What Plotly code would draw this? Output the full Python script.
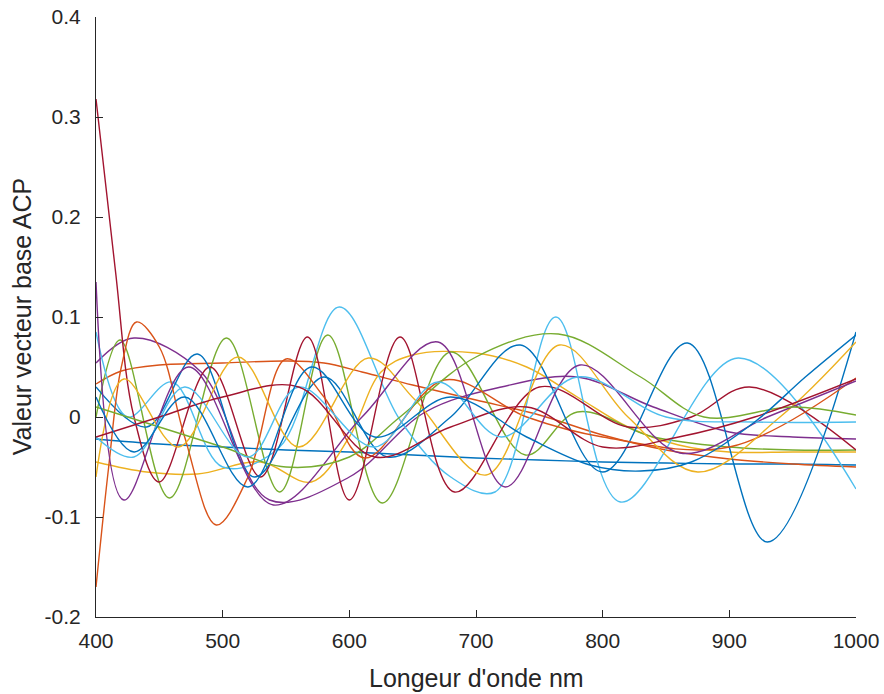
import plotly.graph_objects as go

# MATLAB default colour order
colors = ['#0072BD', '#D95319', '#EDB120', '#7E2F8E', '#77AC30', '#4DBEEE', '#A2142F']

# wavelength (nm) / value pairs, one pair of lists per basis vector
wl_01 = [400, 450, 500, 550, 600, 650, 700, 750, 800, 850, 900, 950, 1000]
v_01 = [-0.022, -0.027, -0.030, -0.033, -0.035, -0.038, -0.041, -0.043, -0.045, -0.046, -0.047, -0.047, -0.048]

wl_02 = [400, 420, 450, 500, 550, 580, 610, 650, 700, 750, 800, 850, 900, 950, 1000]
v_02 = [0.033, 0.046, 0.052, 0.054, 0.056, 0.054, 0.045, 0.032, 0.017, 0.002, -0.018, -0.033, -0.042, -0.047, -0.050]

wl_03 = [400, 440, 480, 530, 570, 600, 625, 650, 700, 740, 780, 820, 860, 900, 950, 1000]
v_03 = [-0.045, -0.055, -0.057, -0.045, -0.065, -0.02, 0.045, 0.062, 0.064, 0.05, 0.02, -0.01, -0.028, -0.035, -0.035, -0.035]

wl_04 = [400, 430, 483, 537, 600, 660, 720, 780, 840, 900, 950, 1000]
v_04 = [0.054, 0.079, 0.045, -0.083, -0.06, 0.005, 0.03, 0.04, 0.01, -0.015, -0.02, -0.022]

wl_05 = [400, 419, 458, 503, 545, 583, 626, 680, 739, 780, 840, 900, 950, 1000]
v_05 = [0.0, 0.077, -0.081, 0.079, -0.075, 0.082, -0.086, 0.065, -0.038, 0.005, -0.02, -0.03, -0.033, -0.033]

wl_06 = [400, 425, 460, 500, 545, 592, 640, 680, 715, 763, 814, 907, 1000]
v_06 = [0.085, 0.0, 0.035, -0.05, -0.03, 0.11, -0.003, -0.06, -0.075, 0.1, -0.085, 0.059, -0.072]

wl_07 = [400, 415, 430, 450, 490, 530, 567, 600, 640, 683, 750, 820, 870, 916, 1000]
v_07 = [0.318, 0.15, 0.0, -0.065, 0.05, -0.06, 0.08, -0.083, 0.08, -0.075, 0.03, -0.01, 0.0, 0.03, -0.033]

wl_08 = [400, 440, 480, 525, 580, 630, 680, 735, 800, 867, 930, 1000]
v_08 = [0.03, -0.01, 0.063, -0.06, 0.04, -0.04, 0.0, 0.072, -0.055, 0.074, -0.125, 0.085]

wl_09 = [400, 410, 420, 432, 450, 470, 495, 520, 550, 580, 612, 675, 740, 800, 900, 1000]
v_09 = [-0.17, -0.05, 0.05, 0.095, 0.07, -0.02, -0.108, -0.06, 0.058, 0.02, -0.041, 0.037, 0.0, -0.02, -0.03, 0.039]

wl_10 = [400, 422, 465, 512, 560, 615, 652, 708, 766, 820, 875, 940, 1000]
v_10 = [-0.06, 0.038, -0.03, 0.06, -0.03, 0.059, 0.017, -0.058, 0.072, 0.0, -0.055, 0.0, 0.075]

wl_11 = [400, 422, 473, 540, 610, 670, 723, 782, 861, 930, 1000]
v_11 = [0.135, -0.083, 0.05, -0.088, 0.0, 0.075, -0.07, 0.052, -0.036, 0.0, 0.036]

wl_12 = [400, 450, 500, 550, 600, 640, 700, 765, 830, 880, 950, 1000]
v_12 = [0.01, -0.01, -0.03, -0.05, -0.04, 0.0, 0.06, 0.083, 0.04, 0.0, 0.01, 0.002]

wl_13 = [400, 430, 470, 520, 560, 620, 670, 720, 780, 850, 920, 1000]
v_13 = [-0.02, -0.04, 0.03, -0.04, 0.03, -0.03, 0.035, -0.02, 0.04, 0.0, -0.005, -0.005]

wl_14 = [400, 450, 500, 560, 620, 680, 740, 800, 860, 920, 1000]
v_14 = [-0.02, 0.0, 0.02, 0.03, -0.04, -0.01, 0.01, -0.03, -0.02, 0.0, 0.038]

wl_15 = [400, 430, 470, 520, 570, 620, 680, 740, 790, 830, 870, 920, 960, 1000]
v_15 = [0.02, -0.035, 0.02, -0.07, 0.05, -0.02, 0.02, -0.02, -0.048, -0.054, -0.045, -0.005, 0.04, 0.082]

series = [(wl_01, v_01), (wl_02, v_02), (wl_03, v_03), (wl_04, v_04), (wl_05, v_05),
          (wl_06, v_06), (wl_07, v_07), (wl_08, v_08), (wl_09, v_09), (wl_10, v_10),
          (wl_11, v_11), (wl_12, v_12), (wl_13, v_13), (wl_14, v_14), (wl_15, v_15)]

x_ticks = [400, 500, 600, 700, 800, 900, 1000]
y_ticks = [-0.2, -0.1, 0, 0.1, 0.2, 0.3, 0.4]
y_labels = ['-0.2', '-0.1', '0', '0.1', '0.2', '0.3', '0.4']

fig = go.Figure()

for i, (wl, v) in enumerate(series):
    fig.add_trace(go.Scatter(
        x=wl, y=v, mode='lines',
        line=dict(color=colors[i % len(colors)], width=1.4, shape='spline', smoothing=1),
        showlegend=False, hoverinfo='skip'
    ))

ink = '#262626'
font_family = 'Liberation Sans, Arial, Helvetica, sans-serif'

fig.update_layout(
    width=884, height=694,
    paper_bgcolor='white', plot_bgcolor='white',
    margin=dict(l=96, r=28, t=17, b=77),
    font=dict(family=font_family, size=21, color=ink),
    xaxis=dict(
        range=[400, 1000], tickvals=x_ticks, ticks='inside', ticklen=7,
        tickcolor=ink, showline=True, linecolor=ink, linewidth=1,
        showgrid=False, zeroline=False, automargin=False, ticklabelstandoff=5,
        ticklabeloverflow='allow'
    ),
    yaxis=dict(
        range=[-0.2, 0.4], tickvals=y_ticks, ticktext=y_labels, ticks='inside', ticklen=7,
        tickcolor=ink, showline=True, linecolor=ink, linewidth=1,
        showgrid=False, zeroline=False, automargin=False, ticklabelstandoff=10,
        ticklabeloverflow='allow'
    ),
    annotations=[
        dict(text="Longeur d'onde nm", xref='paper', yref='paper', x=0.5, y=-0.102,
             xanchor='center', yanchor='middle', showarrow=False,
             font=dict(family=font_family, size=25, color=ink)),
        dict(text='Valeur vecteur base ACP', xref='paper', yref='paper', x=-0.097, y=0.5,
             xanchor='center', yanchor='middle', showarrow=False, textangle=-90,
             font=dict(family=font_family, size=25, color=ink)),
    ]
)

# drop the default body margin so the figure fills the window exactly
fig.write_html(
    "out.html",
    config={'displayModeBar': False},
    post_script="document.body.style.margin='0';document.body.style.overflow='hidden';"
)
